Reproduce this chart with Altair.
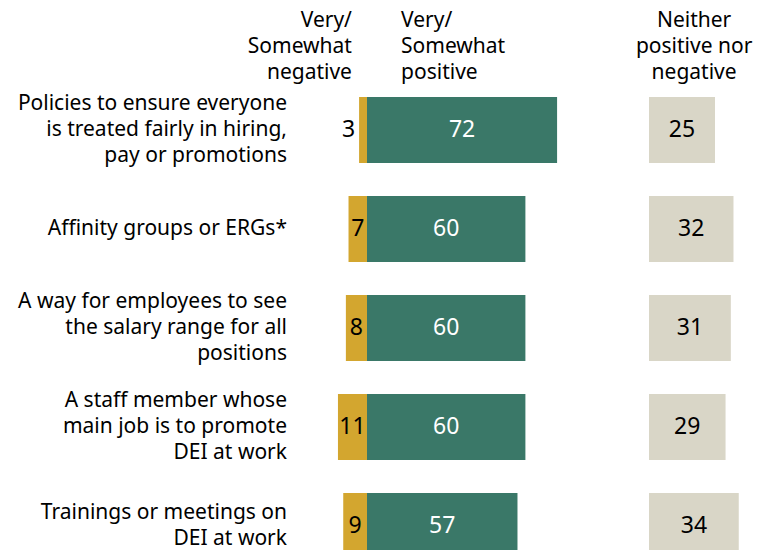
import altair as alt
import pandas as pd

categories = [
    "Policies to ensure everyone\nis treated fairly in hiring,\npay or promotions",
    "Affinity groups or ERGs*",
    "A way for employees to see\nthe salary range for all\npositions",
    "A staff member whose\nmain job is to promote\nDEI at work",
    "Trainings or meetings on\nDEI at work",
]
negative = [3, 7, 8, 11, 9]
positive = [72, 60, 60, 60, 57]
neither = [25, 32, 31, 29, 34]

headers = [
    "Very/\nSomewhat\nnegative",
    "Very/\nSomewhat\npositive",
    "Neither\npositive nor\nnegative",
]

GOLD = "#D3A62F"
GREEN = "#3A7868"
BEIGE = "#D9D6C7"
FONT = "Noto Sans"
TXT = 21
NUM = 23
LH = 26.3

W, H = 748, 542
PX_PER_UNIT = 2.64
ZERO_PX = 359
X0 = -ZERO_PX / PX_PER_UNIT
X1 = X0 + W / PX_PER_UNIT
ROW_PX = 99
Y1 = H / ROW_PX
FIRST_ROW = 122 / ROW_PX
HALF = 33 / ROW_PX
NEITHER_OFFSET = 282 / PX_PER_UNIT
LABEL_X = -80 / PX_PER_UNIT
LH_U = LH / ROW_PX

df = pd.DataFrame({
    "cat": categories,
    "neg": negative,
    "pos": positive,
    "nei": neither,
    "row": list(range(len(categories))),
})
df["yc"] = df["row"] + FIRST_ROW
df["y0"] = df["yc"] - HALF
df["y1"] = df["yc"] + HALF
df["neg_x"] = -df["neg"]
df["zero"] = 0
df["nei_x0"] = NEITHER_OFFSET
df["nei_x1"] = NEITHER_OFFSET + df["nei"]
df["pos_lab"] = df["pos"] / 2
df["nei_lab"] = NEITHER_OFFSET + df["nei"] / 2
df["neg_lab_in"] = -df["neg"] / 2
df["neg_lab_out"] = -df["neg"] - 1.5
df["label_x"] = LABEL_X
df["nlines"] = [c.count("\n") + 1 for c in categories]
df["label_y"] = df["yc"] - (df["nlines"] - 1) * LH_U / 2

hdr = pd.DataFrame({
    "text": headers,
    "x": [-5.7, 12.9, 123.9],
})
hdr["nlines"] = [h.count("\n") + 1 for h in headers]
hdr["y"] = 39 / ROW_PX - (hdr["nlines"] - 1) * LH_U / 2

xs = alt.Scale(domain=[X0, X1], nice=False, zero=False)
ys = alt.Scale(domain=[0, Y1], nice=False, zero=False, reverse=True)
X = lambda f: alt.X(f, type="quantitative", scale=xs, axis=None)
Y = lambda f: alt.Y(f, type="quantitative", scale=ys, axis=None)

base = alt.Chart(df)

neg_bar = base.mark_rect(color=GOLD).encode(
    x=X("neg_x"), x2="zero", y=Y("y0"), y2="y1")
pos_bar = base.mark_rect(color=GREEN).encode(
    x=X("zero"), x2="pos", y=Y("y0"), y2="y1")
nei_bar = base.mark_rect(color=BEIGE).encode(
    x=X("nei_x0"), x2="nei_x1", y=Y("y0"), y2="y1")

num_style = dict(font=FONT, fontSize=NUM, baseline="middle")
pos_txt = base.mark_text(color="white", align="center", **num_style).encode(
    x=X("pos_lab"), y=Y("yc"), text="pos:Q")
nei_txt = base.mark_text(color="black", align="center", **num_style).encode(
    x=X("nei_lab"), y=Y("yc"), text="nei:Q")
neg_in = base.transform_filter("datum.neg >= 5").mark_text(
    color="black", align="center", **num_style).encode(
    x=X("neg_lab_in"), y=Y("yc"), text="neg:Q")
neg_out = base.transform_filter("datum.neg < 5").mark_text(
    color="black", align="right", **num_style).encode(
    x=X("neg_lab_out"), y=Y("yc"), text="neg:Q")

cat_txt = base.transform_calculate(lines="split(datum.cat, '\\n')").mark_text(
    font=FONT, fontSize=TXT, align="right", baseline="middle", lineHeight=LH,
    color="black").encode(x=X("label_x"), y=Y("label_y"), text="lines:N")

hdr_layers = []
for i, a in enumerate(["right", "left", "center"]):
    hdr_layers.append(
        alt.Chart(hdr.iloc[[i]]).transform_calculate(
            lines="split(datum.text, '\\n')").mark_text(
            font=FONT, fontSize=TXT, align=a, baseline="middle",
            lineHeight=LH, color="black").encode(
            x=X("x"), y=Y("y"), text="lines:N"))

chart = alt.layer(
    neg_bar, pos_bar, nei_bar, pos_txt, nei_txt, neg_in, neg_out, cat_txt,
    *hdr_layers
).properties(
    width=W, height=H, autosize=alt.AutoSizeParams(type="none"), padding=0,
    background="white"
).configure_view(stroke=None, strokeWidth=0)

chart.save("out.html", embed_options={"renderer": "svg", "actions": False})
